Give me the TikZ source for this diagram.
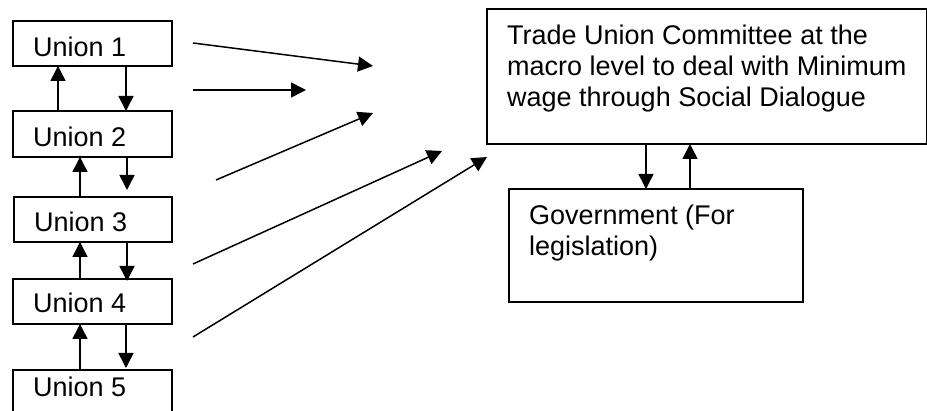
\documentclass[tikz,border=0pt]{standalone}
\usepackage{fontspec}
\setmainfont{Liberation Sans}
\usetikzlibrary{arrows.meta,calc}
\begin{document}
\begin{tikzpicture}[x=1pt,y=-1pt,
  box/.style={draw,line width=1.6pt,inner sep=0pt,outer sep=0pt,anchor=north west},
  lbl/.style={inner sep=0pt,anchor=base west,font=\fontsize{27}{31}\selectfont,align=left},
  arr/.style={line width=1.5pt,-{Triangle[length=15pt,width=15pt]}}]
\useasboundingbox (0,0) rectangle (927,411);
\clip (0,0) rectangle (927,411);
% union boxes
\node[box,minimum width=159pt,minimum height=45pt] (u1) at (13,21) {};
\node[box,minimum width=159pt,minimum height=46pt] (u2) at (13,111) {};
\node[box,minimum width=158pt,minimum height=45pt] (u3) at (14,197) {};
\node[box,minimum width=159pt,minimum height=45pt] (u4) at (13,279) {};
\node[box,minimum width=159pt,minimum height=60pt] (u5) at (13,370) {};
\node[lbl] (t1) at (33,57) {Union 1};
\node[lbl] (t2) at (33,147) {Union 2};
\node[lbl] (t3) at (34,232) {Union 3};
\node[lbl] (t4) at (33,313) {Union 4};
\node[lbl] (t5) at (33,397) {Union 5};
% vertical arrows between unions
\draw[arr] ($(u2.north west)+(45,0)$) -- ($(u1.south west)+(45,0)$);
\draw[arr] ($(u1.south west)+(113,0)$) -- ($(u2.north west)+(113,0)$);
\draw[arr] ($(u3.north west)+(66,0)$) -- ($(u2.south west)+(67,0)$);
\draw[arr] ($(u2.south west)+(114,0)$) -- ($(u3.north west)+(113,-7)$);
\draw[arr] ($(u4.north west)+(67,0)$) -- ($(u3.south west)+(66,0)$);
\draw[arr] ($(u3.south west)+(113,0)$) -- ($(u4.north west)+(114,2)$);
\draw[arr] ($(u5.north west)+(67,0)$) -- ($(u4.south west)+(67,0)$);
\draw[arr] ($(u4.south west)+(113,0)$) -- ($(u5.north west)+(113,-2)$);
% committee
\node[box,minimum width=440pt,minimum height=135pt] (tc) at (487,9) {};
\node[lbl] (ttc) at (507,107) {Trade Union Committee at the\\macro level to deal with Minimum\\wage through Social Dialogue};
\node[box,minimum width=294pt,minimum height=113pt] (gov) at (509,189) {};
\node[lbl] (tgov) at (529,256) {Government (For\\legislation)};
\draw[arr] ($(tc.south west)+(159,0)$) -- ($(gov.north west)+(137,0)$);
\draw[arr] ($(gov.north west)+(181,0)$) -- ($(tc.south west)+(203,0)$);
% diagonal arrows
\coordinate (s1) at (193,43); \coordinate (e1) at (373,66);
\coordinate (s2) at (193,90); \coordinate (e2) at (306,90);
\coordinate (s3) at (216,180); \coordinate (e3) at (373,113);
\coordinate (s4) at (193,264); \coordinate (e4) at (442,151);
\coordinate (s5) at (193,337); \coordinate (e5) at (487,157);
\foreach \i in {1,...,5} \draw[arr] (s\i) -- (e\i);
\end{tikzpicture}
\end{document}
